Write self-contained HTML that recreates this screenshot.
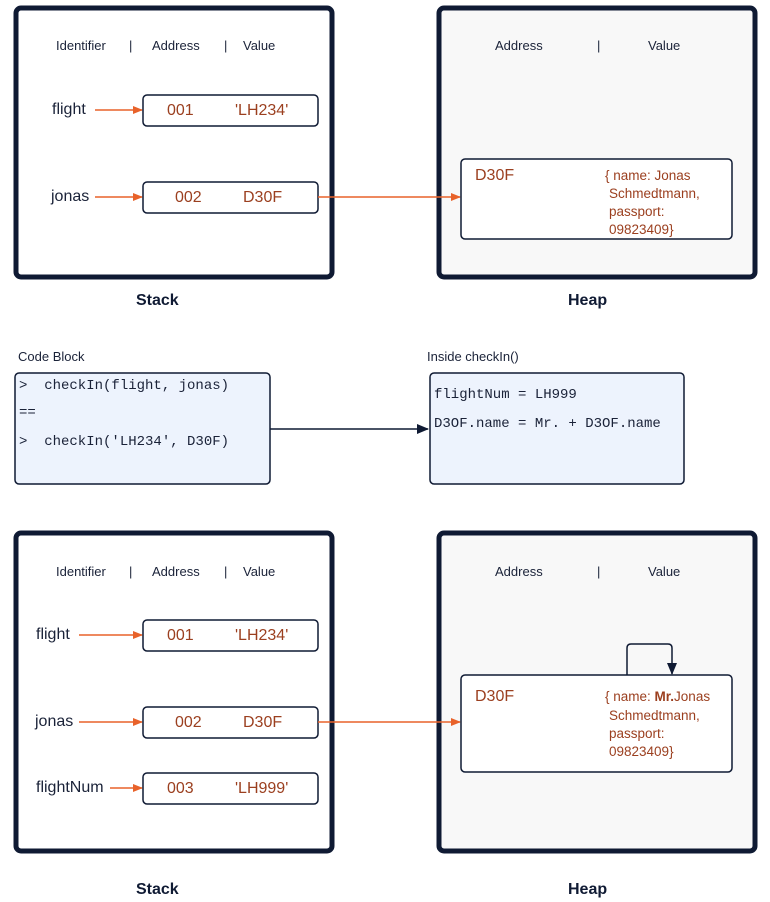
<!DOCTYPE html>
<html><head><meta charset="utf-8"><style>
html,body{margin:0;padding:0;background:#fff;}
svg{display:block;}
text{font-family:"Liberation Sans",sans-serif;white-space:pre;}
.h{font-size:13px;fill:#1a2238;}
.lbl{font-size:16px;fill:#1a2238;}
.v{font-size:16px;fill:#9b3f1f;}
.o{font-size:13.5px;fill:#9b3f1f;}
.m{font-family:"Liberation Mono",monospace;font-size:14px;fill:#1a2238;}
.t{font-size:13px;fill:#1a2238;}
.b{font-size:16px;font-weight:bold;fill:#0f1a33;}
</style></head><body>
<svg width="770" height="902" viewBox="0 0 770 902" xmlns="http://www.w3.org/2000/svg">
<defs>
<marker id="ao" markerWidth="10" markerHeight="8" refX="9" refY="4" orient="auto" markerUnits="userSpaceOnUse"><path d="M0,0 L10,4 L0,8 z" fill="#e8622a"/></marker>
<marker id="ad" markerWidth="12" markerHeight="10" refX="11" refY="5" orient="auto" markerUnits="userSpaceOnUse"><path d="M0,0 L12,5 L0,10 z" fill="#0f1a33"/></marker>
</defs>

<!-- TOP -->
<rect x="16" y="8" width="316" height="269" rx="5" fill="#fff" stroke="#0f1a33" stroke-width="5"/>
<rect x="439" y="8" width="316" height="269" rx="5" fill="#f8f8f8" stroke="#0f1a33" stroke-width="5"/>
<text class="h" x="56" y="50">Identifier</text><text class="h" x="129" y="50">|</text>
<text class="h" x="152" y="50">Address</text><text class="h" x="224" y="50">|</text>
<text class="h" x="243" y="50">Value</text>
<text class="lbl" x="52" y="114">flight</text>
<line x1="95" y1="110" x2="142" y2="110" stroke="#e8622a" stroke-width="1.5" marker-end="url(#ao)"/>
<rect x="143" y="95" width="175" height="31" rx="4" fill="#fff" stroke="#0f1a33" stroke-width="1.5"/>
<text class="v" x="167" y="115">001</text><text class="v" x="235" y="115">'LH234'</text>
<text class="lbl" x="51" y="201">jonas</text>
<line x1="95" y1="197" x2="142" y2="197" stroke="#e8622a" stroke-width="1.5" marker-end="url(#ao)"/>
<rect x="143" y="182" width="175" height="31" rx="4" fill="#fff" stroke="#0f1a33" stroke-width="1.5"/>
<text class="v" x="175" y="202">002</text><text class="v" x="243" y="202">D30F</text>
<line x1="318" y1="197" x2="460" y2="197" stroke="#e8622a" stroke-width="1.5" marker-end="url(#ao)"/>
<text class="h" x="495" y="50">Address</text><text class="h" x="597" y="50">|</text><text class="h" x="648" y="50">Value</text>
<rect x="461" y="159" width="271" height="80" rx="4" fill="#fff" stroke="#0f1a33" stroke-width="1.5"/>
<text class="v" x="475" y="180">D30F</text>
<text class="o" x="605" y="180">{ name: Jonas</text>
<text class="o" x="609" y="198">Schmedtmann,</text>
<text class="o" x="609" y="216">passport:</text>
<text class="o" x="609" y="234">09823409}</text>
<text class="b" x="136" y="305">Stack</text>
<text class="b" x="568" y="305">Heap</text>

<!-- MIDDLE -->
<text class="t" x="18" y="361">Code Block</text>
<text class="t" x="427" y="361">Inside checkIn()</text>
<rect x="15" y="373" width="255" height="111" rx="4" fill="#edf3fd" stroke="#0f1a33" stroke-width="1.5"/>
<text class="m" x="19" y="389">&gt;&#160;&#160;checkIn(flight, jonas)</text>
<text class="m" x="19" y="416">==</text>
<text class="m" x="19" y="445">&gt;&#160;&#160;checkIn('LH234', D30F)</text>
<line x1="270" y1="429" x2="428" y2="429" stroke="#0f1a33" stroke-width="1.5" marker-end="url(#ad)"/>
<rect x="430" y="373" width="254" height="111" rx="4" fill="#edf3fd" stroke="#0f1a33" stroke-width="1.5"/>
<text class="m" x="434" y="398">flightNum = LH999</text>
<text class="m" x="434" y="427">D3OF.name = Mr. + D3OF.name</text>

<!-- BOTTOM -->
<rect x="16" y="533" width="316" height="318" rx="5" fill="#fff" stroke="#0f1a33" stroke-width="5"/>
<rect x="439" y="533" width="316" height="318" rx="5" fill="#f8f8f8" stroke="#0f1a33" stroke-width="5"/>
<text class="h" x="56" y="576">Identifier</text><text class="h" x="129" y="576">|</text>
<text class="h" x="152" y="576">Address</text><text class="h" x="224" y="576">|</text>
<text class="h" x="243" y="576">Value</text>
<text class="lbl" x="36" y="639">flight</text>
<line x1="79" y1="635" x2="142" y2="635" stroke="#e8622a" stroke-width="1.5" marker-end="url(#ao)"/>
<rect x="143" y="620" width="175" height="31" rx="4" fill="#fff" stroke="#0f1a33" stroke-width="1.5"/>
<text class="v" x="167" y="640">001</text><text class="v" x="235" y="640">'LH234'</text>
<text class="lbl" x="35" y="726">jonas</text>
<line x1="79" y1="722" x2="142" y2="722" stroke="#e8622a" stroke-width="1.5" marker-end="url(#ao)"/>
<rect x="143" y="707" width="175" height="31" rx="4" fill="#fff" stroke="#0f1a33" stroke-width="1.5"/>
<text class="v" x="175" y="727">002</text><text class="v" x="243" y="727">D30F</text>
<line x1="318" y1="722" x2="460" y2="722" stroke="#e8622a" stroke-width="1.5" marker-end="url(#ao)"/>
<text class="lbl" x="36" y="792">flightNum</text>
<line x1="110" y1="788" x2="142" y2="788" stroke="#e8622a" stroke-width="1.5" marker-end="url(#ao)"/>
<rect x="143" y="773" width="175" height="31" rx="4" fill="#fff" stroke="#0f1a33" stroke-width="1.5"/>
<text class="v" x="167" y="793">003</text><text class="v" x="235" y="793">'LH999'</text>
<text class="h" x="495" y="576">Address</text><text class="h" x="597" y="576">|</text><text class="h" x="648" y="576">Value</text>
<rect x="461" y="675" width="271" height="97" rx="4" fill="#fff" stroke="#0f1a33" stroke-width="1.5"/>
<path d="M627,675 L627,648 Q627,644 631,644 L668,644 Q672,644 672,648 L672,674" fill="none" stroke="#0f1a33" stroke-width="1.5" marker-end="url(#ad)"/>
<text class="v" x="475" y="701">D30F</text>
<text class="o" x="605" y="701">{ name: <tspan font-weight="bold">Mr.</tspan>Jonas</text>
<text class="o" x="609" y="720">Schmedtmann,</text>
<text class="o" x="609" y="738">passport:</text>
<text class="o" x="609" y="756">09823409}</text>
<text class="b" x="136" y="894">Stack</text>
<text class="b" x="568" y="894">Heap</text>
</svg>
</body></html>
